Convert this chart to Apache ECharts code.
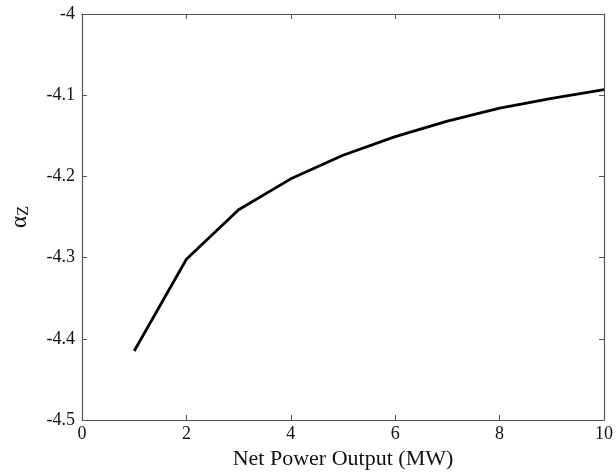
<!DOCTYPE html>
<html><head><meta charset="utf-8">
<script src="https://cdn.jsdelivr.net/npm/echarts@6/dist/echarts.min.js"></script>
<style>html,body{margin:0;padding:0;background:#fff}#c{width:616px;height:475px}</style>
</head><body><div id="c"></div>
<script>
var powerMW = [1, 2, 3, 4, 5, 6, 7, 8, 9, 10];
var alphaZ = [-4.415, -4.302, -4.241, -4.203, -4.174, -4.151, -4.132, -4.116, -4.104, -4.093];
var xTicks = [0, 2, 4, 6, 8, 10];
var yTicks = [-4.5, -4.4, -4.3, -4.2, -4.1, -4];

var font = 'Liberation Serif';
var axisCol = '#555';
var chart = echarts.init(document.getElementById('c'), null, {renderer: 'canvas'});
function axisBase() {
  return {
    axisLine: {show: true, onZero: false, lineStyle: {color: axisCol, width: 1.2}},
    axisTick: {show: true, inside: true, length: 5, lineStyle: {color: axisCol}},
    splitLine: {show: false}
  };
}
var data = powerMW.map(function (x, i) { return [x, alphaZ[i]]; });
chart.setOption({
  animation: false,
  backgroundColor: '#fff',
  grid: {left: 82, right: 11, top: 14, bottom: 55, containLabel: false},
  xAxis: [
    Object.assign(axisBase(), {
      type: 'value', min: xTicks[0], max: xTicks[xTicks.length - 1], interval: 2,
      position: 'bottom',
      name: 'Net Power Output (MW)', nameLocation: 'middle', nameGap: 28,
      nameTextStyle: {fontFamily: font, fontSize: 22, color: '#111'},
      axisLabel: {fontFamily: font, fontSize: 18, color: '#111', margin: 5}
    }),
    Object.assign(axisBase(), {
      type: 'value', min: xTicks[0], max: xTicks[xTicks.length - 1], interval: 2,
      position: 'top', axisLabel: {show: false}
    })
  ],
  yAxis: [
    Object.assign(axisBase(), {
      type: 'value', min: yTicks[0], max: yTicks[yTicks.length - 1], interval: 0.1,
      position: 'left',
      name: '{a|α}{s|Z}', nameLocation: 'middle', nameGap: 50, nameRotate: 90,
      nameTextStyle: {fontFamily: font, color: '#111',
        rich: {a: {fontFamily: font, fontSize: 23, color: '#111'},
               s: {fontFamily: font, fontSize: 16, color: '#111', verticalAlign: 'bottom', padding: [9, 0, 0, 0]}}},
      axisLabel: {fontFamily: font, fontSize: 18, color: '#111', margin: 7,
        formatter: function (v) { return String(Math.round(v * 10) / 10); }}
    }),
    Object.assign(axisBase(), {
      type: 'value', min: yTicks[0], max: yTicks[yTicks.length - 1], interval: 0.1,
      position: 'right', axisLabel: {show: false}
    })
  ],
  series: [{
    type: 'line', data: data, xAxisIndex: 0, yAxisIndex: 0,
    showSymbol: false, symbol: 'none',
    lineStyle: {color: '#000', width: 2.8}
  }]
});
</script></body></html>
